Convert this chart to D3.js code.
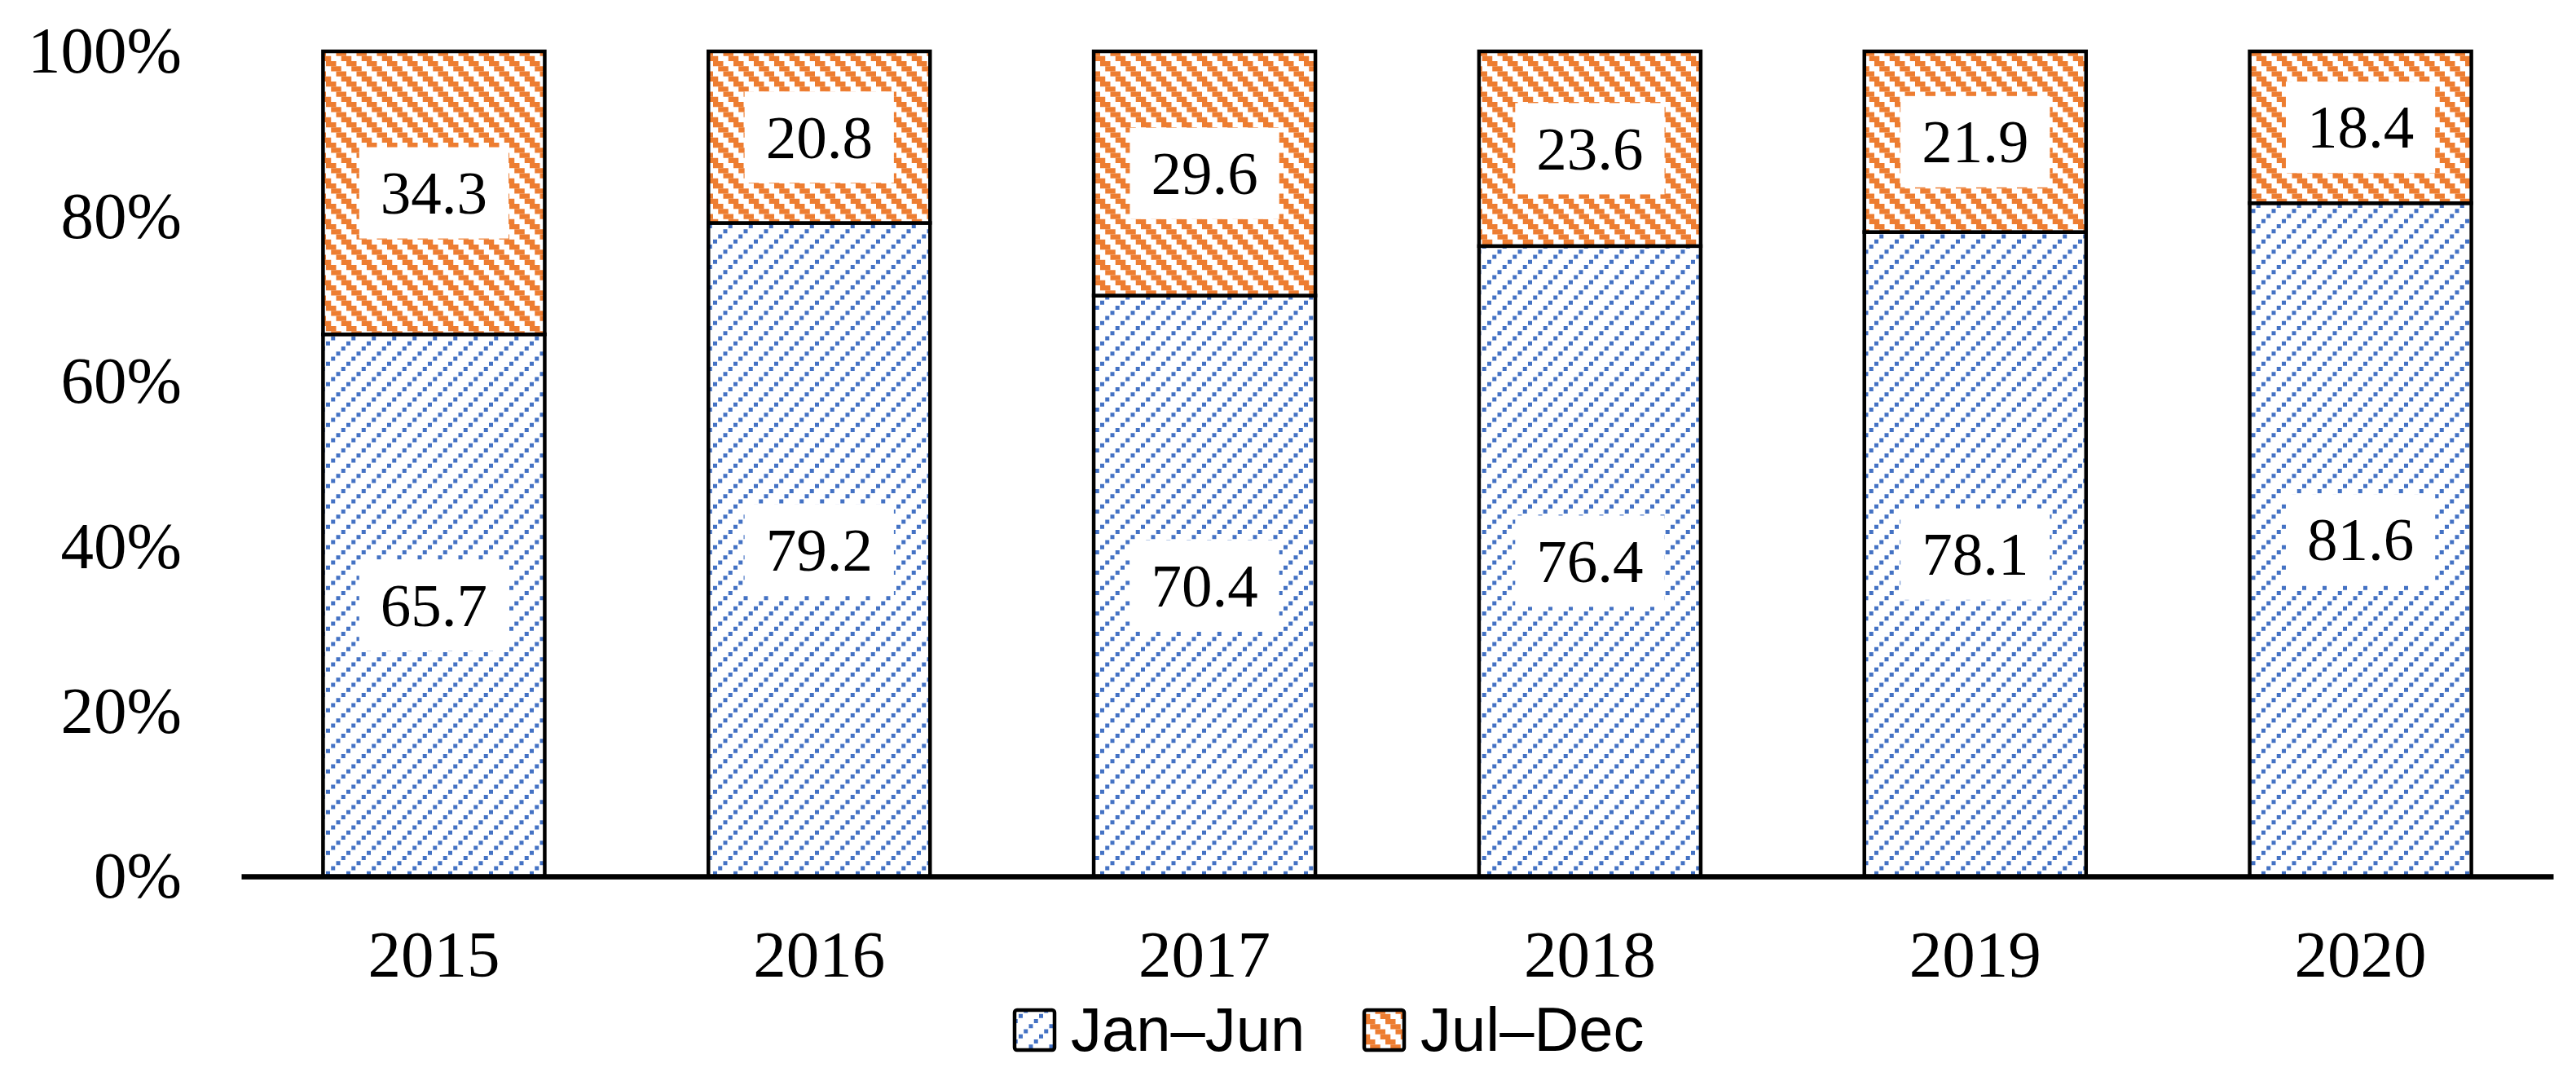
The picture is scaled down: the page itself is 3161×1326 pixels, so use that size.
<!DOCTYPE html>
<html>
<head>
<meta charset="utf-8">
<script src="https://cdn.jsdelivr.net/npm/d3@7"></script>
<style>
  html, body { margin: 0; padding: 0; background: #fff; }
  svg { display: block; }
</style>
</head>
<body>
<svg id="chart" width="3161" height="1326"></svg>
<script>
// ---- data ----
const years = ["2015", "2016", "2017", "2018", "2019", "2020"];
const janJun = [65.7, 79.2, 70.4, 76.4, 78.1, 81.6];
const julDec = [34.3, 20.8, 29.6, 23.6, 21.9, 18.4];
const seriesNames = ["Jan\u2013Jun", "Jul\u2013Dec"];
const yTicks = [0, 20, 40, 60, 80, 100];

// ---- setup ----
const W = 3161, H = 1326;
const svg = d3.select("#chart");
const serif = "'Liberation Serif', 'Times New Roman', serif";
const sans = "'Liberation Sans', Arial, sans-serif";
const blue = "#4472C4", orange = "#ED7D31";

const x = d3.scaleBand().domain(years).range([296, 3133]).paddingInner(0.4247).paddingOuter(0.21235);
const y = d3.scaleLinear().domain([0, 100]).range([1075, 63]);

// ---- patterns ----
const defs = svg.append("defs");
const T = 25, s = T / 4;
const pb = defs.append("pattern").attr("id", "pBlue").attr("patternUnits", "userSpaceOnUse")
  .attr("width", T).attr("height", T);
pb.append("rect").attr("width", T).attr("height", T).attr("fill", "#fff");
for (let k = 0; k < 4; k++) {
  pb.append("rect").attr("x", k * s).attr("y", (3 - k) * s).attr("width", 5).attr("height", 5).attr("fill", blue);
}
const po = defs.append("pattern").attr("id", "pOrange").attr("patternUnits", "userSpaceOnUse")
  .attr("width", T).attr("height", T);
po.append("rect").attr("width", T).attr("height", T).attr("fill", "#fff");
for (let k = 0; k < 4; k++) {
  const x0 = k * s, w = 2 * s;
  const w1 = Math.min(w, T - x0);
  po.append("rect").attr("x", x0).attr("y", k * s).attr("width", w1).attr("height", s).attr("fill", orange);
  if (w1 < w) po.append("rect").attr("x", 0).attr("y", k * s).attr("width", w - w1).attr("height", s).attr("fill", orange);
}
const fills = ["url(#pBlue)", "url(#pOrange)"];

// ---- stack ----
const rows = years.map((yr, i) => ({ year: yr, a: janJun[i], b: julDec[i] }));
const stacked = d3.stack().keys(["a", "b"])(rows);

const gBars = svg.append("g");
stacked.forEach((layer, li) => {
  gBars.append("g").selectAll("rect").data(layer).join("rect")
    .attr("x", d => x(d.data.year))
    .attr("width", x.bandwidth())
    .attr("y", d => y(d[1]))
    .attr("height", d => y(d[0]) - y(d[1]))
    .attr("fill", fills[li])
    .attr("stroke", "#000")
    .attr("stroke-width", 4.5);
});

// ---- data labels ----
const gLab = svg.append("g");
stacked.forEach((layer, li) => {
  layer.forEach(d => {
    const cx = x(d.data.year) + x.bandwidth() / 2;
    const cy = (y(d[0]) + y(d[1])) / 2;
    const g = gLab.append("g");
    const r = g.append("rect").attr("fill", "#fff");
    const t = g.append("text")
      .attr("x", cx).attr("y", cy + 0.338 * 75)
      .attr("text-anchor", "middle")
      .attr("font-family", serif).attr("font-size", 75)
      .attr("fill", "#000")
      .text(d3.format(".1f")(d[1] - d[0]));
    const bb = t.node().getBBox();
    const bw = bb.width + 52, bh = 112;
    r.attr("x", cx - bw / 2).attr("y", cy - bh / 2).attr("width", bw).attr("height", bh);
  });
});

// ---- axes ----
const yAxis = svg.append("g").attr("transform", "translate(296,0)")
  .call(d3.axisLeft(y).tickValues(yTicks).tickFormat(d => d + "%").tickSize(0).tickPadding(73));
yAxis.select(".domain").remove();
yAxis.selectAll("text").attr("font-family", serif).attr("font-size", 81).attr("fill", "#000");

const xAxis = svg.append("g").attr("transform", "translate(0,1075)")
  .call(d3.axisBottom(x).tickSize(0).tickSizeOuter(0).tickPadding(65));
xAxis.select(".domain").attr("stroke", "#000").attr("stroke-width", 6.5);
xAxis.selectAll("text").attr("font-family", serif).attr("font-size", 81).attr("fill", "#000");

// ---- legend ----
const legendX = [1243, 1672];
const gLeg = svg.append("g");
seriesNames.forEach((name, i) => {
  gLeg.append("rect").attr("x", legendX[i] + 2).attr("y", 1239).attr("width", 49).attr("height", 49)
    .attr("rx", 3).attr("fill", fills[i]).attr("stroke", "#000").attr("stroke-width", 4.5);
  gLeg.append("text").attr("x", legendX[i] + 71).attr("y", 1289)
    .attr("font-family", sans).attr("font-size", 76).attr("fill", "#000").text(name);
});
</script>
</body>
</html>
